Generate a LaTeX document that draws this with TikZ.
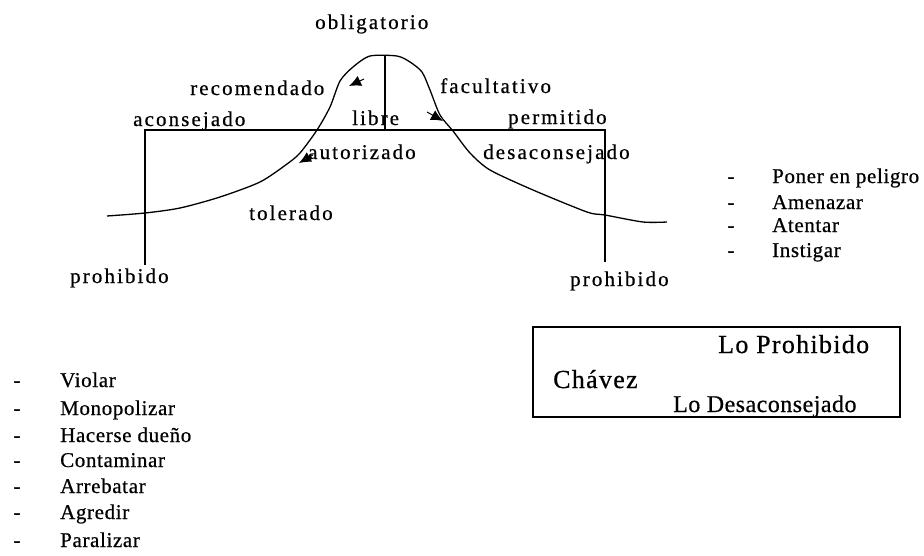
\documentclass[tikz,border=0pt]{standalone}
\usepackage{fontspec}
\setmainfont{Liberation Serif}
\newfontfamily\lblfont[LetterSpace=10,FakeBold=0.6]{Liberation Serif}
\newfontfamily\listfont[LetterSpace=3,FakeBold=0.6]{Liberation Serif}
\newfontfamily\boxfont[LetterSpace=5,FakeBold=0.6]{Liberation Serif}
\newfontfamily\boxfontb[LetterSpace=2,FakeBold=0.6]{Liberation Serif}
\usetikzlibrary{arrows.meta}
\begin{document}
\begin{tikzpicture}[x=1pt,y=-1pt,
  lbl/.style={inner sep=0pt,anchor=base west,font=\lblfont\fontsize{21}{24}\selectfont},
  itm/.style={inner sep=0pt,anchor=base west,font=\listfont\fontsize{21}{24}\selectfont},
  dsh/.style={inner sep=0pt,anchor=base,font=\listfont\fontsize{21}{24}\selectfont},
  bxa/.style={inner sep=0pt,anchor=base west,font=\boxfont\fontsize{26}{30}\selectfont},
  bxb/.style={inner sep=0pt,anchor=base west,font=\boxfontb\fontsize{24}{28}\selectfont},
  ln/.style={line width=1.3pt,black},
  tip/.style={line width=1pt,-{Latex[length=12pt,width=11pt]}}]
\useasboundingbox (0,0) rectangle (924,555);
\fill[white] (0,0) rectangle (924,555);

% frame lines
\coordinate (hl) at (145,130);
\coordinate (hr) at (605,130);
\coordinate (vlb) at (145,265);
\coordinate (vrb) at (605,262);
\coordinate (ct) at (385,56);
\coordinate (cb) at (385,130);
\draw[ln] (vlb) -- (hl) -- (hr) -- (vrb);
\draw[ln] (ct) -- (cb);

% bell curve
\draw[ln] plot[smooth,tension=0.45] coordinates {(107,216) (145,213) (180,208) (220,197) (260,182) (287,164) (300,153) (317,130) (330,107) (340,81) (353,67) (370,56) (397,56) (410,62) (422,72) (430,90) (440,115) (453,131) (470,153) (490,170) (533,190) (587,212) (605,215) (643,222) (667,222)};

% small arrow heads
\coordinate (a1s) at (364,79);
\coordinate (a1e) at (349,86);
\coordinate (a2s) at (427,112);
\coordinate (a2e) at (443,121);
\coordinate (a3s) at (313,155);
\coordinate (a3e) at (299,163);
\draw[tip] (a1s) -- (a1e);
\draw[tip] (a2s) -- (a2e);
\draw[tip] (a3s) -- (a3e);

% labels
\node[lbl] (oblig) at (315,29) {obligatorio};
\node[lbl] (recom) at (190,95) {recomendado};
\node[lbl] (acons) at (133,126) {aconsejado};
\node[lbl] (libre) at (352,125) {libre};
\node[lbl] (autor) at (308,159) {autorizado};
\node[lbl] (facul) at (440,93) {facultativo};
\node[lbl] (permi) at (508,124) {permitido};
\node[lbl] (desac) at (483,159) {desaconsejado};
\node[lbl] (toler) at (249,220) {tolerado};
\node[lbl] (prohl) at (70,283) {prohibido};
\node[lbl] (prohr) at (570,286) {prohibido};

% right list
\node[dsh] (rd1) at (731,183) {-};
\node[itm] (r1) at (772,183) {Poner en peligro};
\node[dsh] (rd2) at (731,209) {-};
\node[itm] (r2) at (772,209) {Amenazar};
\node[dsh] (rd3) at (731,232) {-};
\node[itm] (r3) at (772,232) {Atentar};
\node[dsh] (rd4) at (731,257) {-};
\node[itm] (r4) at (772,257) {Instigar};

% box
\node[draw,line width=1.3pt,minimum width=367pt,minimum height=90pt,inner sep=0pt] (box) at (716.5,372) {};
\node[bxa] (lop) at (718,353) {Lo Prohibido};
\node[bxa] (chav) at (553,388) {Chávez};
\node[bxb] (lod) at (673,412) {Lo Desaconsejado};

% left list
\node[dsh] (ld1) at (17,387) {-};
\node[itm] (l1) at (60,387) {Violar};
\node[dsh] (ld2) at (17,415) {-};
\node[itm] (l2) at (60,415) {Monopolizar};
\node[dsh] (ld3) at (17,442) {-};
\node[itm] (l3) at (60,442) {Hacerse dueño};
\node[dsh] (ld4) at (17,467) {-};
\node[itm] (l4) at (60,467) {Contaminar};
\node[dsh] (ld5) at (17,493) {-};
\node[itm] (l5) at (60,493) {Arrebatar};
\node[dsh] (ld6) at (17,519) {-};
\node[itm] (l6) at (60,519) {Agredir};
\node[dsh] (ld7) at (17,547) {-};
\node[itm] (l7) at (60,547) {Paralizar};
\end{tikzpicture}
\end{document}
